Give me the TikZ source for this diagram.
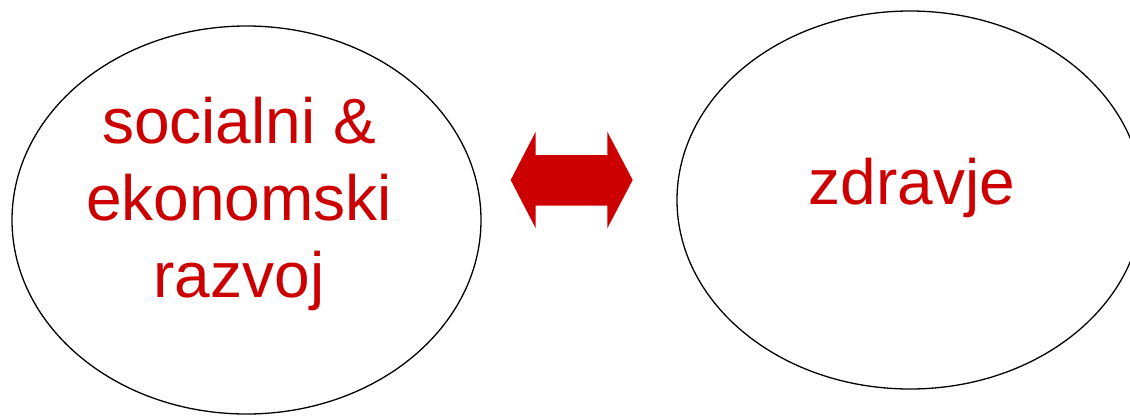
\documentclass[tikz,border=0pt]{standalone}
\usepackage{fontspec}
\setmainfont{Liberation Sans}
\usetikzlibrary{shapes.geometric}
\definecolor{txtred}{HTML}{CC0000}
\begin{document}
\begin{tikzpicture}[x=1pt,y=-1pt,
  bubble/.style={draw=black, line width=1.3pt, ellipse, inner sep=0pt},
  redtext/.style={text=txtred, anchor=base, inner sep=0pt, font=\fontsize{64}{77}\selectfont},
  blockarrow/.style={fill=txtred, draw=none}]
\useasboundingbox (0,0) rectangle (1130,416);
\clip (0,0) rectangle (1130,416);
\node[bubble, minimum width=469pt, minimum height=388pt] (left) at (246.5,220) {};
\node[bubble, minimum width=466pt, minimum height=378pt] (right) at (910,200) {};
\node[redtext] (l1) at (239,143) {socialni \&};
\node[redtext] (l2) at (239,220) {ekonomski};
\node[redtext] (l3) at (239,297) {razvoj};
\node[redtext] (r1) at (912,204) {zdravje};
\fill[blockarrow] (510.7,180) -- (535.7,131.7) -- (535.7,155) -- (607.3,155) -- (607.3,131.7) -- (632.7,180) -- (607.3,228.3) -- (607.3,205.5) -- (535.7,205.5) -- (535.7,228.3) -- cycle;
\end{tikzpicture}
\end{document}
